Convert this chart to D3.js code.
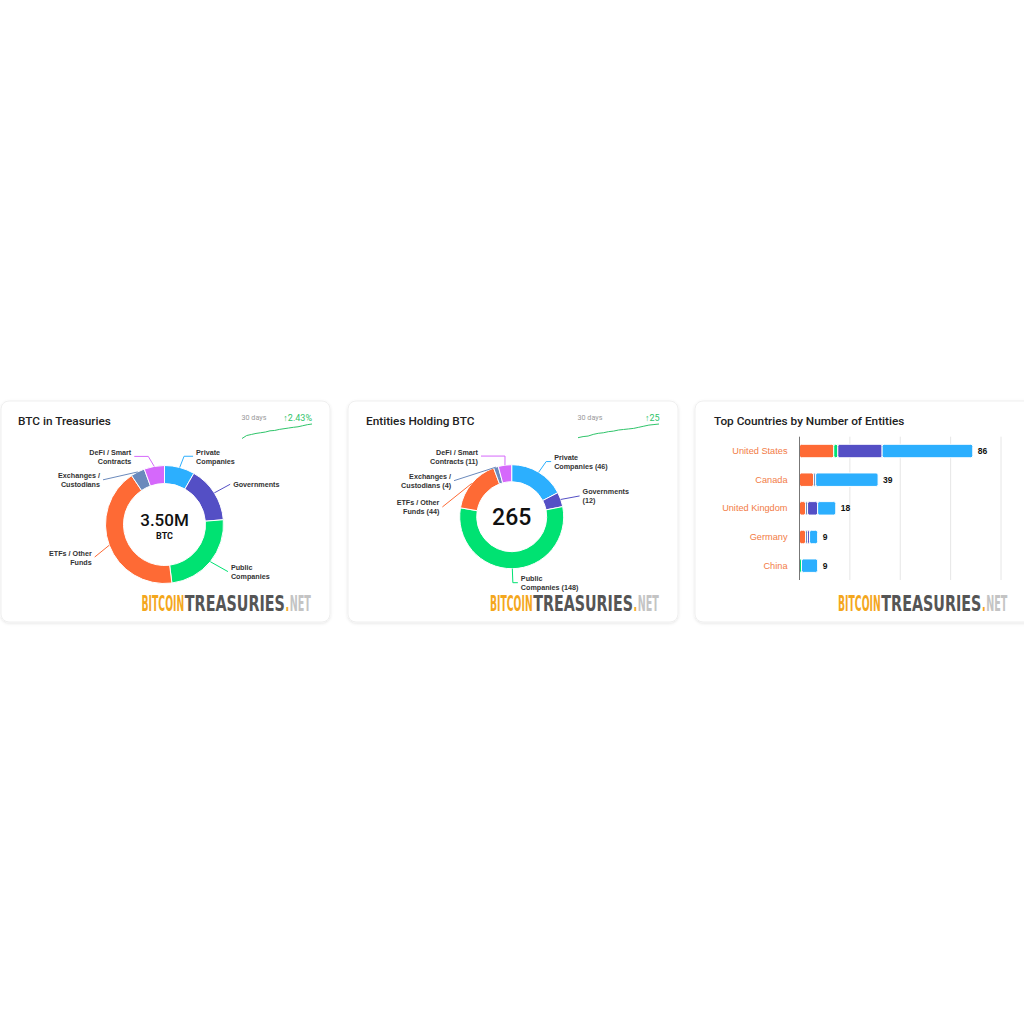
<!DOCTYPE html>
<html>
<head>
<meta charset="utf-8">
<script src="https://cdn.jsdelivr.net/npm/d3@7"></script>
<style>
  html, body { margin: 0; padding: 0; background: #fff; }
  svg { display: block; font-family: Roboto, "Liberation Sans", sans-serif; }
</style>
</head>
<body>
<svg id="chart" width="1024" height="1024"></svg>
<script>
// ---- data ----
const segmentNames = ["Private Companies", "Governments", "Public Companies", "ETFs / Other Funds", "Exchanges / Custodians", "DeFi / Smart Contracts"];
const segmentColors = ["#2caffe", "#544fc5", "#00e272", "#fe6a35", "#6b8abc", "#d568fb"];

// thousand BTC held per holder type
const btcHoldings = [290, 540, 850, 1490, 135, 195];
// number of entities per holder type
const entityCounts = [46, 12, 148, 44, 4, 11];

// 30 day sparklines
const btcSpark = [3417, 3434, 3440, 3446, 3450, 3454, 3461, 3463, 3469, 3473, 3477, 3481, 3484, 3490, 3496, 3500];
const entitySpark = [240, 242, 243, 246, 248, 249, 251, 252, 254, 255, 256, 257, 259, 261, 263, 264, 265];

// top countries, stacked by holder type
const countries = ["United States", "Canada", "United Kingdom", "Germany", "China"];
const countryETFs = [17, 7, 3, 3, 0];
const countryPublic = [2, 0, 0, 0, 1];
const countryExchanges = [0, 1, 1, 1, 0];
const countryGovernments = [22, 0, 5, 1, 0];
const countryPrivate = [45, 31, 9, 4, 8];
const xTicks = [0, 25, 50, 75, 100];

// label placement (angle in degrees, radius of the knee, horizontal tail)
const btcLabelLayout = [
  { a: 16, r: 71, h: 9 }, { a: 58.5, r: 77, h: 0 }, { a: 126.6, r: 79, h: 0 },
  { a: 245, r: 77, h: 0 }, { a: 306, r: 76, h: 0 }, { a: 346.6, r: 70, h: -14 }
];
const entityLabelLayout = [
  { a: 32, r: 65, h: 5 }, { a: 73, r: 71, h: 0 }, { a: 179, r: 66, h: 5 },
  { a: 278, r: 70, h: 0 }, { a: 302, r: 68, h: 0 }, { a: 353.7, r: 61, h: -24 }
];

const svg = d3.select("#chart");

// card shadow
const defs = svg.append("defs");
defs.append("filter").attr("id", "shadow")
  .attr("x", "-5%").attr("y", "-5%").attr("width", "110%").attr("height", "115%")
  .append("feDropShadow")
  .attr("dx", 0).attr("dy", 1).attr("stdDeviation", 1.5)
  .attr("flood-color", "#000").attr("flood-opacity", 0.10);

function drawCard(x, y, w, h) {
  svg.append("rect")
    .attr("x", x).attr("y", y).attr("width", w).attr("height", h)
    .attr("rx", 8)
    .attr("fill", "#fff")
    .attr("stroke", "#efefef")
    .attr("filter", "url(#shadow)");
}

function drawTitle(x, y, text) {
  svg.append("text")
    .attr("x", x).attr("y", y)
    .attr("font-size", 11.8)
    .attr("font-weight", 500)
    .attr("fill", "#222")
    .text(text);
}

function drawLogo(x, y, width) {
  // condensed wordmark: size each word to its slot, then stretch it vertically
  const parts = [
    { t: "BITCOIN", w: 0.255, c: "#f4a71d" },
    { t: "TREASURIES", w: 0.592, c: "#555" },
    { t: ".", w: 0.025, c: "#f4a71d" },
    { t: "NET", w: 0.128, c: "#c4c4c4" }
  ];
  const capHeight = 15.7;
  let cur = x;
  parts.forEach(p => {
    const pw = p.w * width - 0.6;
    const t = svg.append("text")
      .attr("x", 0).attr("y", 0)
      .attr("font-family", "'DejaVu Sans Condensed', 'DejaVu Sans', sans-serif")
      .attr("font-weight", "bold")
      .attr("font-size", 20)
      .attr("fill", p.c)
      .text(p.t);
    const nat = t.node().getComputedTextLength();
    const f = 20 * pw / nat;
    const sy = capHeight / (0.729 * f);
    t.attr("font-size", f)
      .attr("transform", `translate(${cur},${y}) scale(1,${sy})`);
    cur += p.w * width;
  });
}

function drawSpark(values, x0, x1, yBottom, yTop, textX, changeText, changeRight) {
  const x = d3.scaleLinear().domain([0, values.length - 1]).range([x0, x1]);
  const y = d3.scaleLinear().domain(d3.extent(values)).range([yBottom, yTop]);
  svg.append("path")
    .datum(values)
    .attr("fill", "none")
    .attr("stroke", "#2fc46a")
    .attr("stroke-width", 1)
    .attr("d", d3.line().x((d, i) => x(i)).y(d => y(d)));
  svg.append("text")
    .attr("x", textX).attr("y", 420)
    .attr("font-size", 7.2)
    .attr("fill", "#999")
    .text("30 days");
  svg.append("text")
    .attr("x", changeRight).attr("y", 420.5)
    .attr("text-anchor", "end")
    .attr("font-size", 9)
    .attr("fill", "#2fc46a")
    .text(changeText);
}

function wrapText(textSel, words, maxWidth, lineH) {
  // greedy word wrap
  let line = [];
  let lines = [];
  const probe = textSel.append("tspan");
  words.forEach(w => {
    const test = line.concat([w]).join(" ");
    probe.text(test);
    if (probe.node().getComputedTextLength() > maxWidth && line.length) {
      lines.push(line.join(" "));
      line = [w];
    } else {
      line.push(w);
    }
  });
  lines.push(line.join(" "));
  probe.remove();
  const x = textSel.attr("x");
  lines.forEach((l, i) => {
    textSel.append("tspan")
      .attr("x", x)
      .attr("dy", i === 0 ? (-(lines.length - 1) * lineH / 2) + "px" : lineH + "px")
      .text(l);
  });
}

function drawDonut(opts) {
  const { cx, cy, outer, inner, values, layout, labelText, maxWidth } = opts;
  const g = svg.append("g").attr("transform", `translate(${cx},${cy})`);
  const pie = d3.pie().sort(null).value(d => d)(values);
  const arc = d3.arc().innerRadius(inner).outerRadius(outer);

  g.selectAll("path.slice")
    .data(pie)
    .enter().append("path")
    .attr("class", "slice")
    .attr("d", arc)
    .attr("fill", (d, i) => segmentColors[i])
    .attr("stroke", "#fff")
    .attr("stroke-width", 1);

  const polar = (angDeg, r) => {
    const a = angDeg * Math.PI / 180;
    return [r * Math.sin(a), -r * Math.cos(a)];
  };

  pie.forEach((d, i) => {
    const mid = (d.startAngle + d.endAngle) / 2 * 180 / Math.PI;
    const lay = layout[i];
    const p0 = polar(mid, outer);
    const knee = polar(lay.a, lay.r);
    const end = [knee[0] + lay.h, knee[1]];
    g.append("path")
      .attr("d", d3.line()([p0, knee, end]))
      .attr("fill", "none")
      .attr("stroke", segmentColors[i])
      .attr("stroke-width", 1);
    const right = end[0] > 0;
    const t = g.append("text")
      .attr("x", end[0] + (right ? 3 : -3))
      .attr("y", end[1])
      .attr("dominant-baseline", "central")
      .attr("text-anchor", right ? "start" : "end")
      .attr("font-family", "'Liberation Sans', Arial, sans-serif")
      .attr("font-size", 7.2)
      .attr("font-weight", "bold")
      .attr("fill", "#333");
    wrapText(t, labelText(i).split(" "), maxWidth, 9);
  });
  return g;
}

// ---- cards ----
drawCard(1, 401, 329, 221);
drawCard(348, 401, 330, 221);
drawCard(695, 401, 340, 221);

// ---- card 1: BTC in Treasuries ----
drawTitle(18, 424.5, "BTC in Treasuries");
const btcChange = (btcSpark[btcSpark.length - 1] / btcSpark[0] - 1) * 100;
drawSpark(btcSpark, 242, 312, 438.5, 424, 241.5, "\u2191" + btcChange.toFixed(2) + "%", 312);

const g1 = drawDonut({
  cx: 164.5, cy: 524.5, outer: 59, inner: 41,
  values: btcHoldings, layout: btcLabelLayout,
  labelText: i => segmentNames[i], maxWidth: 48
});
g1.append("text")
  .attr("x", 0).attr("y", 1)
  .attr("text-anchor", "middle")
  .attr("font-size", 17).attr("font-weight", 500).attr("fill", "#111")
  .text((d3.sum(btcHoldings) / 1000).toFixed(2) + "M");
g1.append("text")
  .attr("x", 0).attr("y", 14)
  .attr("text-anchor", "middle")
  .attr("font-size", 9).attr("font-weight", "bold").attr("fill", "#111")
  .text("BTC");
drawLogo(141.5, 610.5, 170);

// ---- card 2: Entities Holding BTC ----
drawTitle(366, 424.5, "Entities Holding BTC");
const entChange = entitySpark[entitySpark.length - 1] - entitySpark[0];
drawSpark(entitySpark, 578, 659, 437.7, 424, 577.5, "\u2191" + entChange, 659.5);

const g2 = drawDonut({
  cx: 511.7, cy: 516.7, outer: 52, inner: 35,
  values: entityCounts, layout: entityLabelLayout,
  labelText: i => `${segmentNames[i]} (${entityCounts[i]})`, maxWidth: 59
});
g2.append("text")
  .attr("x", 0).attr("y", 8)
  .attr("text-anchor", "middle")
  .attr("font-size", 23).attr("font-weight", 500).attr("fill", "#111")
  .text(d3.sum(entityCounts));
drawLogo(490, 610.5, 169.5);

// ---- card 3: Top Countries ----
drawTitle(714, 424.5, "Top Countries by Number of Entities");

const rows = countries.map((c, i) => ({
  country: c,
  etfs: countryETFs[i],
  pub: countryPublic[i],
  exch: countryExchanges[i],
  gov: countryGovernments[i],
  priv: countryPrivate[i]
}));
const barKeys = ["etfs", "pub", "exch", "gov", "priv"];
const barColors = { etfs: "#fe6a35", pub: "#00e272", exch: "#6b8abc", gov: "#544fc5", priv: "#2caffe" };
const stacked = d3.stack().keys(barKeys)(rows);

const x = d3.scaleLinear().domain([0, 100]).range([799.5, 1001]);
const y = d3.scaleBand().domain(countries).range([436.7, 580])
  .paddingInner(0.53).paddingOuter(0.265);

// grid
svg.append("g")
  .selectAll("line")
  .data(xTicks.slice(1))
  .enter().append("line")
  .attr("x1", d => x(d)).attr("x2", d => x(d))
  .attr("y1", 436.7).attr("y2", 580)
  .attr("stroke", "#e6e6e6").attr("stroke-width", 1);

// bars
svg.append("g")
  .selectAll("g")
  .data(stacked)
  .enter().append("g")
  .attr("fill", d => barColors[d.key])
  .selectAll("rect")
  .data(d => d.filter(s => s[1] > s[0]))
  .enter().append("rect")
  .attr("x", d => x(d[0]))
  .attr("y", d => y(d.data.country))
  .attr("width", d => x(d[1]) - x(d[0]))
  .attr("height", y.bandwidth())
  .attr("rx", 2)
  .attr("stroke", "#fff")
  .attr("stroke-width", 1);

// axis line
svg.append("line")
  .attr("x1", 799.5).attr("x2", 799.5)
  .attr("y1", 436.7).attr("y2", 580)
  .attr("stroke", "#777").attr("stroke-width", 1);

// category labels
svg.append("g")
  .selectAll("text")
  .data(countries)
  .enter().append("text")
  .attr("x", 787.5)
  .attr("y", d => y(d) + y.bandwidth() / 2)
  .attr("dominant-baseline", "central")
  .attr("text-anchor", "end")
  .attr("font-family", "'Liberation Sans', Arial, sans-serif")
  .attr("font-size", 9.2)
  .attr("fill", "#f27b45")
  .text(d => d);

// totals
svg.append("g")
  .selectAll("text")
  .data(rows)
  .enter().append("text")
  .attr("x", d => x(barKeys.reduce((s, k) => s + d[k], 0)) + 5)
  .attr("y", d => y(d.country) + y.bandwidth() / 2)
  .attr("dominant-baseline", "central")
  .attr("font-family", "'Liberation Sans', Arial, sans-serif")
  .attr("font-size", 8.5)
  .attr("font-weight", "bold")
  .attr("fill", "#111")
  .text(d => barKeys.reduce((s, k) => s + d[k], 0));

drawLogo(838, 610.5, 170);
</script>
</body>
</html>
